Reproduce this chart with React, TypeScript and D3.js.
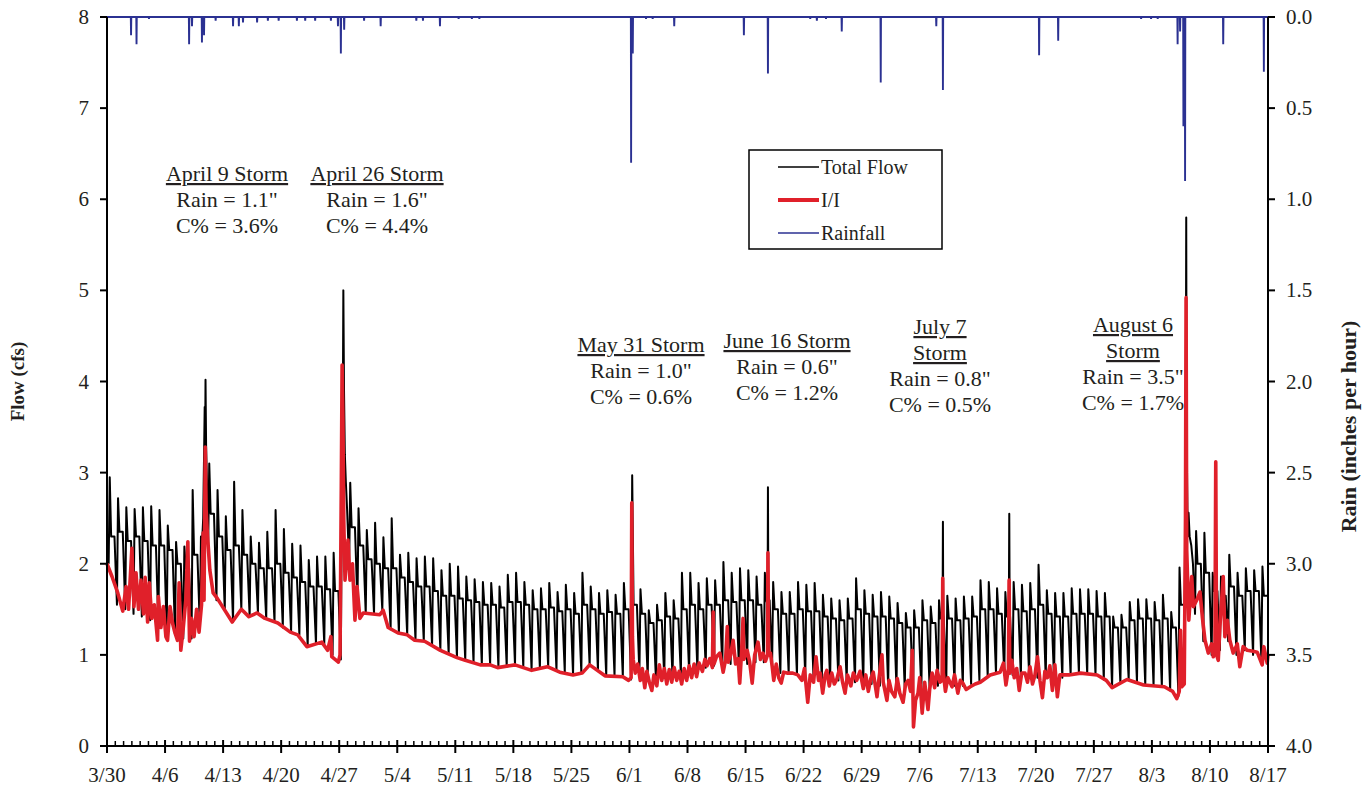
import React from "react";
import * as d3 from "d3";

// ---------- DATA ----------
const xTickLabels = ["3/30","4/6","4/13","4/20","4/27","5/4","5/11","5/18","5/25","6/1","6/8","6/15","6/22","6/29","7/6","7/13","7/20","7/27","8/3","8/10","8/17"];
const flowTicks = [0,1,2,3,4,5,6,7,8];
const rainTicks = [0,0.5,1,1.5,2,2.5,3,3.5,4];

// daily total flow (cfs), day 0 = 3/30
const flowPeak = [
2.95,2.72,2.62,2.60,2.62,2.63,2.59,2.42,2.24,2.19,
2.81,2.30,3.10,2.81,2.52,2.90,2.59,2.30,2.23,2.35,
2.59,2.38,2.22,2.20,2.04,2.08,2.08,2.12,2.00,2.89,
2.61,2.37,2.45,2.29,2.50,2.10,2.12,2.06,2.08,2.06,
1.93,2.00,1.97,1.86,1.83,1.80,1.79,1.75,1.88,1.90,
1.80,1.71,1.73,1.79,1.69,1.77,1.68,1.90,1.75,1.68,
1.71,1.66,1.79,2.97,1.72,1.49,1.55,1.68,1.60,1.90,
1.90,1.79,1.84,1.82,2.02,1.90,1.95,1.93,1.86,1.90,
1.80,1.69,1.69,1.80,1.77,1.79,1.66,1.62,1.60,1.62,
1.84,1.71,1.66,1.69,1.64,1.57,1.46,1.49,1.60,1.53,
1.60,1.65,1.62,1.64,1.64,1.82,1.80,1.73,1.69,1.80,
1.77,1.79,1.99,1.71,1.68,1.68,1.73,1.72,1.72,1.70,
1.68,1.42,1.44,1.58,1.61,1.61,1.58,1.66,1.47,1.96,
2.86,2.36,2.34,1.90,1.86,2.10,1.90,1.95,1.93,1.97];

const flowTrough = [
2.00,1.55,1.50,1.45,1.42,1.38,1.32,1.26,1.22,1.18,
1.18,1.30,2.20,1.60,1.49,1.36,1.50,1.42,1.46,1.40,
1.36,1.30,1.25,1.22,1.09,1.12,1.12,1.00,0.95,2.00,
1.55,1.45,1.45,1.49,1.28,1.24,1.22,1.16,1.15,1.10,
1.05,1.01,0.97,0.94,0.91,0.89,0.89,0.86,0.87,0.89,
0.86,0.83,0.85,0.87,0.83,0.81,0.78,0.80,0.88,0.83,
0.77,0.77,0.76,0.73,0.80,0.75,0.72,0.75,0.75,0.78,
0.80,0.82,0.86,0.88,0.88,0.90,0.88,0.90,0.92,0.92,
0.88,0.80,0.80,0.78,0.76,0.74,0.72,0.72,0.72,0.70,
0.70,0.68,0.68,0.66,0.65,0.64,0.62,0.58,0.60,0.62,
0.66,0.66,0.66,0.66,0.68,0.72,0.76,0.80,0.78,0.78,
0.75,0.76,0.75,0.74,0.74,0.75,0.78,0.80,0.79,0.78,
0.73,0.65,0.69,0.73,0.70,0.67,0.66,0.65,0.61,0.55,
1.60,1.45,1.15,1.00,1.05,1.15,1.00,1.05,1.00,0.95];

const flowMid = [
2.30,2.35,2.25,2.30,2.25,2.20,2.20,2.15,2.00,1.95,
2.10,2.30,2.55,2.30,2.15,2.20,2.10,2.00,1.95,1.95,
2.00,1.90,1.85,1.80,1.75,1.75,1.72,1.70,1.70,2.40,
2.20,2.05,2.00,1.95,1.95,1.85,1.80,1.75,1.75,1.70,
1.65,1.65,1.62,1.60,1.58,1.55,1.55,1.52,1.58,1.58,
1.55,1.50,1.50,1.52,1.48,1.50,1.45,1.55,1.50,1.45,
1.47,1.45,1.50,1.55,1.45,1.35,1.38,1.42,1.40,1.50,
1.55,1.50,1.55,1.55,1.60,1.58,1.60,1.60,1.55,1.60,
1.50,1.45,1.45,1.50,1.48,1.48,1.42,1.40,1.38,1.40,
1.50,1.45,1.42,1.42,1.40,1.35,1.30,1.30,1.38,1.35,
1.40,1.40,1.38,1.40,1.42,1.50,1.50,1.45,1.42,1.50,
1.48,1.50,1.55,1.45,1.42,1.42,1.45,1.45,1.45,1.42,
1.42,1.30,1.30,1.38,1.40,1.40,1.38,1.40,1.30,1.55,
2.30,2.00,1.90,1.70,1.65,1.75,1.65,1.70,1.70,1.65];

// storm hydrograph readings of total flow [day, cfs]
const stormApr9 = [[11.6,2.5],[11.72,3.3],[11.78,3.72],[11.83,3.2],[11.88,4.02],[11.95,3.3],[12.05,2.9],[12.12,2.4]];
const stormApr26 = [[28.28,2.2],[28.36,4.05],[28.42,3.3],[28.5,5.0],[28.58,3.9],[28.68,3.2],[28.8,2.9],[28.95,2.6]];
const stormJun16 = [[79.66,1.55],[79.7,2.84],[79.75,1.6]];
const stormJul7 = [[100.76,1.45],[100.8,2.46],[100.84,1.45]];
const stormJul16 = [[108.75,1.5],[108.8,2.55],[108.85,1.45]];
const stormAug6 = [[129.95,1.5],[130.05,3.0],[130.1,4.1],[130.14,5.8],[130.18,3.6],[130.25,2.86],[130.32,2.3],[130.42,2.56],[130.55,2.3],[130.75,2.2],[130.95,2.0]];

// I/I readings [day, cfs]
const iiPoints = [
[0,2.0],[0.6,1.86],[1.3,1.68],[1.9,1.48],[2.3,1.75],[2.6,1.5],[3.0,2.17],[3.25,1.53],[3.5,1.9],[3.8,1.5],
[4.1,1.82],[4.4,1.45],[4.6,1.85],[4.9,1.36],[5.1,1.79],[5.4,1.4],[5.7,1.55],[6.1,1.16],[6.2,1.64],[6.5,1.3],
[6.8,1.53],[7.1,1.2],[7.3,1.16],[7.6,1.53],[7.9,1.35],[8.2,1.24],[8.5,1.16],[8.7,1.79],[8.9,1.05],[9.2,1.3],
[9.5,1.6],[9.75,2.24],[9.95,1.15],[10.2,1.4],[10.5,1.2],[10.8,1.5],[11.1,1.25],[11.4,1.55],[11.6,2.34],[11.7,1.6],
[11.85,3.28],[11.95,2.6],[12.1,2.34],[12.4,1.93],[12.8,1.68],[13.3,1.62],[15.1,1.36],[16.2,1.5],[17.1,1.42],[18.1,1.46],
[19.05,1.4],[20.6,1.35],[22.1,1.25],[23.0,1.22],[24.1,1.09],[25.9,1.14],[26.6,1.05],[27.0,1.2],[27.1,0.98],[27.5,0.95],
[27.9,0.92],[28.1,1.0],[28.25,2.8],[28.35,4.18],[28.45,3.6],[28.55,2.48],[28.7,1.82],[29.06,2.26],[29.3,1.82],[29.6,2.0],
[29.9,1.38],[30.15,1.75],[30.5,1.4],[30.9,1.46],[32.9,1.44],[33.3,1.49],[33.9,1.3],[35.1,1.24],[36.2,1.22],[37.1,1.16],
[38.3,1.15],[40.2,1.05],[42.2,0.97],[43.2,0.94],[45.0,0.89],[46.2,0.89],[47.1,0.86],[49.2,0.89],[51.2,0.83],[53.1,0.87],
[54.6,0.81],[56.2,0.78],[57.3,0.80],[58.2,0.89],[60.05,0.77],[62.2,0.76],[62.9,0.72],[63.2,0.75],[63.28,2.67],[63.36,1.2],
[63.45,0.95],[63.7,0.8],[64.0,0.9],[64.3,0.72],[64.55,0.85],[64.85,0.64],[65.1,0.82],[65.4,0.7],[65.7,0.61],[65.95,0.78],
[66.3,0.66],[66.6,0.89],[66.9,0.72],[67.2,0.85],[67.5,0.68],[67.8,0.84],[68.1,0.7],[68.4,0.86],[68.7,0.72],[69.0,0.82],
[69.3,0.68],[69.6,0.85],[69.9,0.72],[70.2,0.88],[70.5,0.75],[70.8,0.9],[71.1,0.76],[71.4,0.91],[71.8,0.82],[72.1,0.95],
[72.35,0.88],[72.7,0.96],[73.0,0.86],[73.1,1.47],[73.2,0.9],[73.5,0.98],[73.9,1.02],[74.3,0.81],[74.6,0.95],[74.8,1.31],
[74.9,0.92],[75.2,1.0],[75.5,1.16],[75.8,0.9],[76.1,0.96],[76.3,0.69],[76.5,1.0],[76.7,1.4],[76.8,0.95],[77.2,1.05],
[77.5,0.92],[77.8,0.69],[78.1,1.0],[78.5,1.14],[78.8,0.95],[79.1,1.02],[79.4,0.93],[79.65,1.0],[79.7,2.12],[79.78,1.0],
[80.0,1.02],[80.2,0.88],[80.4,0.72],[80.7,0.9],[81.0,0.75],[81.3,0.69],[81.6,0.81],[82.0,0.8],[82.7,0.8],[83.3,0.78],
[83.8,0.72],[84.1,0.85],[84.5,0.48],[84.8,0.78],[85.2,0.7],[85.5,0.98],[85.8,0.72],[86.0,0.8],[86.3,0.58],[86.6,0.78],
[86.8,0.83],[87.1,0.66],[87.4,0.8],[87.7,0.68],[88.0,0.73],[88.4,0.87],[88.7,0.7],[89.0,0.58],[89.3,0.78],[89.7,0.66],
[90.0,0.8],[90.4,0.72],[90.8,0.82],[91.2,0.63],[91.5,0.78],[91.8,0.6],[92.1,0.74],[92.4,0.81],[92.85,0.54],[93.1,0.75],
[93.45,1.0],[93.6,0.7],[94.05,0.5],[94.3,0.72],[94.6,0.6],[95.0,0.54],[95.3,0.74],[95.6,0.58],[96.0,0.48],[96.3,0.68],
[96.6,0.72],[96.9,0.6],[97.1,1.05],[97.25,0.21],[97.5,0.5],[97.8,0.58],[98.0,0.75],[98.3,0.36],[98.6,0.7],[99.0,0.4],
[99.2,0.62],[99.5,0.8],[99.8,0.64],[100.1,0.83],[100.45,0.7],[100.7,0.72],[100.78,1.84],[100.86,0.8],[101.1,0.6],[101.4,0.75],
[101.9,0.65],[102.2,0.78],[102.6,0.58],[102.9,0.72],[103.2,0.69],[103.6,0.62],[104.1,0.65],[104.7,0.68],[105.3,0.7],[106.5,0.78],
[107.7,0.81],[108.1,0.91],[108.4,0.67],[108.7,0.85],[108.78,1.82],[108.86,0.8],[109.1,0.94],[109.4,0.75],[109.7,0.85],[110.0,0.61],
[110.3,0.8],[110.7,0.8],[111.0,0.7],[111.3,0.87],[111.6,0.68],[111.9,0.78],[112.2,0.98],[112.5,0.72],[112.8,0.53],[113.1,0.82],
[113.4,0.75],[113.7,0.88],[114.0,0.61],[114.3,0.89],[114.6,0.54],[114.9,0.78],[115.3,0.78],[116.0,0.78],[117.4,0.8],[119.4,0.78],
[120.5,0.72],[121.2,0.64],[123.0,0.73],[125.0,0.67],[127.5,0.65],[128.5,0.6],[129.0,0.52],[129.3,0.6],[129.45,1.27],[129.6,0.65],
[129.9,0.68],[130.05,2.5],[130.12,4.92],[130.2,2.15],[130.45,1.38],[130.8,1.86],[131.0,1.53],[131.4,1.6],[131.8,1.69],[132.1,1.4],
[132.4,1.16],[132.8,1.02],[133.2,1.12],[133.4,0.98],[133.6,1.05],[133.7,3.12],[133.8,1.0],[134.0,0.94],[134.2,1.31],[134.6,1.86],
[134.8,1.2],[135.1,1.38],[135.4,1.16],[135.8,1.02],[136.3,1.12],[136.6,0.87],[137.0,1.09],[137.5,1.05],[138.2,1.04],[138.7,1.03],
[139.3,0.89],[139.5,1.09],[139.9,0.91],[140,1.0]];

// rainfall intensity readings [day, inches per hour]
const rainPoints = [
[2.9,0.10],[3.56,0.15],[5.06,0.01],[9.9,0.15],[10.25,0.05],[11.45,0.14],[11.7,0.10],[13.1,0.02],[15.2,0.05],[15.9,0.05],
[16.4,0.03],[18.1,0.03],[19.4,0.02],[20.7,0.02],[22.9,0.02],[23.9,0.02],[25.1,0.02],[27.0,0.02],[27.85,0.05],[28.2,0.20],
[28.6,0.07],[31.0,0.02],[33.0,0.05],[37.3,0.02],[38.1,0.02],[40.15,0.05],[42.4,0.01],[44.0,0.01],[44.9,0.01],[63.2,0.80],
[63.4,0.20],[65.0,0.01],[65.8,0.01],[68.4,0.05],[76.8,0.10],[79.7,0.31],[84.8,0.01],[85.6,0.02],[86.7,0.01],[88.6,0.08],
[93.3,0.36],[100.0,0.05],[100.8,0.40],[112.4,0.21],[114.7,0.13],[124.7,0.01],[125.9,0.01],[126.7,0.01],[129.1,0.15],[129.4,0.08],
[129.8,0.60],[130.0,0.90],[134.6,0.15],[139.5,0.30]];

const stormTitles = [["April 9 Storm"],["April 26 Storm"],["May 31 Storm"],["June 16 Storm"],["July 7","Storm"],["August 6","Storm"]];
const stormRain = ["Rain = 1.1\"","Rain = 1.6\"","Rain = 1.0\"","Rain = 0.6\"","Rain = 0.8\"","Rain = 3.5\""];
const stormC = ["C% = 3.6%","C% = 4.4%","C% = 0.6%","C% = 1.2%","C% = 0.5%","C% = 1.7%"];
const legendLabels = ["Total Flow","I/I","Rainfall"];

// ---------- LAYOUT ----------
const W = 1369, H = 786;
const L = 107, R = 1268, T = 17, B = 746;
const annoPos = [[227,174],[377,174],[641,345],[787,341],[940,327],[1133,325]];
const FONT = "'Liberation Serif','Times New Roman',serif";
const INK = "#231f20";
const RED = "#e0202a";
const BLUE = "#2b3192";

export default function App() {
  const x = d3.scaleLinear().domain([0, 140]).range([L, R]);
  const y = d3.scaleLinear().domain([0, 8]).range([B, T]);
  const yR = d3.scaleLinear().domain([0, 4]).range([T, B]);

  const storms = [stormApr9, stormApr26, stormJun16, stormJul7, stormJul16, stormAug6];
  const windows = storms.map(s => [s[0][0], s[s.length - 1][0]]);
  const flowPts: number[][] = [];
  for (let d = 0; d < flowPeak.length; d++) {
    const cand = [[d + 0.2, flowTrough[d]], [d + 0.33, flowPeak[d]], [d + 0.5, flowMid[d]], [d + 0.9, flowMid[d]]];
    for (const p of cand) if (!windows.some(([a, b]) => p[0] >= a && p[0] <= b)) flowPts.push(p);
  }
  storms.forEach(s => s.forEach(p => flowPts.push(p)));
  flowPts.sort((a, b) => a[0] - b[0]);

  const lineF = d3.line<number[]>().x(p => x(p[0])).y(p => y(p[1]));
  const lineR = d3.line<number[]>().x(p => x(p[0])).y(p => yR(p[1]));

  const rainPath: number[][] = [[0, 0]];
  rainPoints.forEach(([d, v]) => { rainPath.push([d - 0.03, 0], [d, v], [d + 0.03, 0]); });
  rainPath.push([140, 0]);

  const minorDays = d3.range(0, 141).filter(d => d % 7 !== 0);

  return (
    <svg width={W} height={H} style={{ display: "block", position: "absolute", left: 0, top: 0, background: "#fff" }} fontFamily={FONT}>
      <rect x={0} y={0} width={W} height={H} fill="#fff" />
      {/* data */}
      <path d={lineF(flowPts) || ""} fill="none" stroke="#000" strokeWidth={2} strokeLinejoin="round" />
      <path d={lineF(iiPoints) || ""} fill="none" stroke={RED} strokeWidth={3.6} strokeLinejoin="round" />
      <path d={lineR(rainPath) || ""} fill="none" stroke={BLUE} strokeWidth={1.9} />

      {/* axes */}
      <g stroke="#000" strokeWidth={2}>
        <line x1={L} x2={L} y1={T} y2={B + 1} />
        <line x1={R} x2={R} y1={T} y2={B + 1} />
        <line x1={L} x2={R} y1={B} y2={B} />
        {flowTicks.map(t => <line key={"lt" + t} x1={L - 7} x2={L} y1={y(t)} y2={y(t)} />)}
        {rainTicks.map(t => <line key={"rt" + t} x1={R} x2={R + 7} y1={yR(t)} y2={yR(t)} />)}
        {xTickLabels.map((_, i) => <line key={"xt" + i} x1={x(i * 7)} x2={x(i * 7)} y1={B - 6} y2={B + 7} />)}
      </g>
      <g stroke="#000" strokeWidth={1.5}>
        {minorDays.map(d => <line key={"mt" + d} x1={x(d)} x2={x(d)} y1={B - 5} y2={B} />)}
      </g>
      <g fontSize={21} fill={INK}>
        {flowTicks.map(t => <text key={"ll" + t} x={L - 18} y={y(t) + 7} textAnchor="end">{t}</text>)}
        {rainTicks.map(t => <text key={"rl" + t} x={R + 18} y={yR(t) + 7} textAnchor="start">{t.toFixed(1)}</text>)}
        {xTickLabels.map((lab, i) => <text key={"xl" + i} x={x(i * 7)} y={B + 36} textAnchor="middle">{lab}</text>)}
      </g>
      <text transform={`translate(24,${(T + B) / 2 + 0}) rotate(-90)`} textAnchor="middle" fontWeight="bold" fontSize={19} fill={INK}>Flow (cfs)</text>
      <text transform={`translate(1356,${(T + B) / 2 + 45}) rotate(-90)`} textAnchor="middle" fontWeight="bold" fontSize={22} fill={INK}>Rain (inches per hour)</text>

      {/* legend */}
      <g>
        <rect x={749} y={150} width={193} height={99} fill="#fff" stroke="#000" strokeWidth={1.5} />
        {legendLabels.map((lab, i) => {
          const ly = 167 + i * 33;
          const col = i === 0 ? "#000" : i === 1 ? RED : BLUE;
          return (
            <g key={lab}>
              <line x1={778} x2={819} y1={ly} y2={ly} stroke={col} strokeWidth={i === 1 ? 4 : 1.5} />
              <text x={821} y={ly + 7} fontSize={20} fill={INK}>{lab}</text>
            </g>
          );
        })}
      </g>

      {/* storm annotations */}
      <g fontSize={22} fill={INK} textAnchor="middle">
        {stormTitles.map((title, i) => {
          const [ax, ay] = annoPos[i];
          const lines = [...title, stormRain[i], stormC[i]];
          return (
            <g key={"a" + i}>
              {lines.map((ln, j) => (
                <text key={j} x={ax} y={ay + 7 + j * 26} style={j < title.length ? { textDecoration: "underline" } : undefined}>{ln}</text>
              ))}
            </g>
          );
        })}
      </g>
    </svg>
  );
}
